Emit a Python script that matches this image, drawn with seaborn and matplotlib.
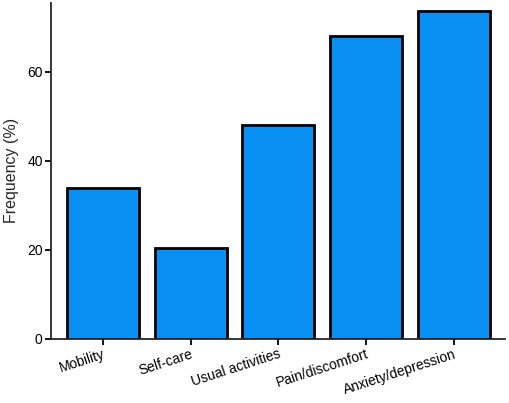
import matplotlib
matplotlib.use("Agg")
import matplotlib.pyplot as plt
import seaborn as sns
import pandas as pd

categories = ["Mobility", "Self-care", "Usual activities", "Pain/discomfort", "Anxiety/depression"]
frequency = [34.0, 20.4, 48.0, 68.1, 73.6]

sns.set_style("ticks")
plt.rcParams['font.family'] = ['Liberation Sans', 'DejaVu Sans']

df = pd.DataFrame({"cat": categories, "freq": frequency})

fig = plt.figure(figsize=(5.10, 4.03), dpi=100)
ax = fig.add_axes([0.1, 0.159, 0.89, 0.834])
sns.barplot(data=df, x="cat", y="freq", ax=ax, color="#0a8ff2", saturation=1,
            edgecolor="black", linewidth=2.0, width=0.82)
ax.set_xlim(-0.59, 4.58)
ax.set_ylim(0, 75.5)
ax.set_yticks([0, 20, 40, 60])
ax.set_xlabel("")
ax.set_ylabel("Frequency (%)", fontsize=11.5, labelpad=6)
sns.despine(ax=ax)
for s in ["left", "bottom"]:
    ax.spines[s].set_linewidth(1.3)
ax.tick_params(axis="both", width=1.3, length=4, labelsize=10, colors="black", pad=2)
plt.setp(ax.get_xticklabels(), rotation=18, ha="right", rotation_mode="anchor")
fig.savefig("out.png", dpi=100)
